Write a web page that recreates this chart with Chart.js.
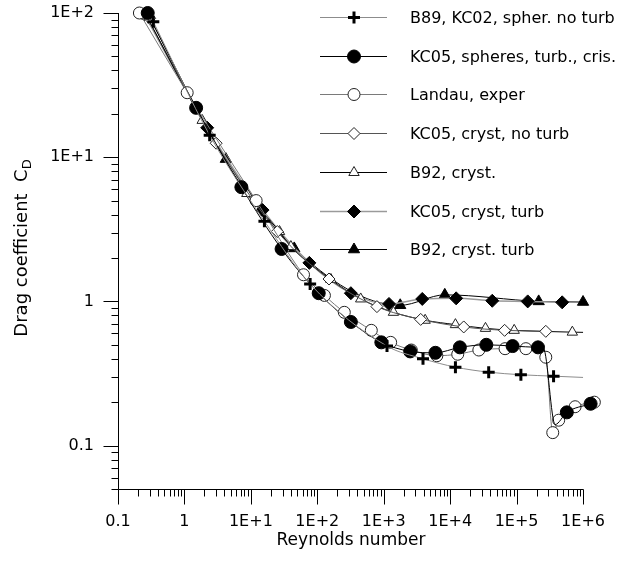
<!DOCTYPE html>
<html>
<head>
<meta charset="utf-8">
<script src="https://cdn.jsdelivr.net/npm/chart.js@4/dist/chart.umd.min.js"></script>
<style>
  html, body { margin: 0; padding: 0; background: #fff; }
  #wrap { width: 628px; height: 563px; }
</style>
</head>
<body>
<div id="wrap"><canvas id="chart" width="628" height="563"></canvas></div>
<script>
// Axis ticks (decades) and their printed labels
const xTickValues = [0.1, 1, 10, 100, 1e3, 1e4, 1e5, 1e6];
const xTickLabels = ['0.1', '1', '1E+1', '1E+2', '1E+3', '1E+4', '1E+5', '1E+6'];
const yTickValues = [0.1, 1, 10, 100];
const yTickLabels = ['0.1', '1', '1E+1', '1E+2'];

const seriesNames = [
  'B89, KC02, spher. no turb',
  'KC05, spheres, turb., cris.',
  'Landau, exper',
  'KC05, cryst, no turb',
  'B92, cryst.',
  'KC05, cryst, turb',
  'B92, cryst. turb'
];

// Reynolds number / drag coefficient per series.
// "...Shown" flags: 1 = plotted with a symbol, 0 = point of the fitted curve only.
const b89Re    = [0.34, 2.4, 16, 78, 1120, 3900, 12000, 38000, 116000, 360000, 1000000];
const b89Cd    = [87, 14.2, 3.6, 1.32, 0.49, 0.40, 0.35, 0.323, 0.31, 0.303, 0.297];
const b89Shown = [1, 1, 1, 1, 1, 1, 1, 1, 1, 1, 0];

const kc05SphRe    = [0.28, 1.5, 7.2, 29, 105, 320, 920, 2500, 6000, 14000, 35000, 87000, 210000, 255000, 380000, 570000, 1300000];
const kc05SphCd    = [100, 22, 6.2, 2.31, 1.14, 0.72, 0.52, 0.45, 0.44, 0.48, 0.50, 0.49, 0.48, 0.47, 0.14, 0.17, 0.195];
const kc05SphShown = [1, 1, 1, 1, 1, 1, 1, 1, 1, 1, 1, 1, 1, 0, 0, 1, 1];

const landauRe    = [0.21, 1.1, 12, 62, 128, 255, 650, 1270, 2600, 6300, 13000, 27000, 67000, 138000, 275000, 350000, 430000, 760000, 1480000];
const landauCd    = [100, 28, 5.0, 1.53, 1.1, 0.84, 0.63, 0.52, 0.46, 0.42, 0.43, 0.46, 0.47, 0.47, 0.41, 0.123, 0.15, 0.186, 0.2];
const landauShown = [1, 1, 1, 1, 1, 1, 1, 1, 1, 1, 1, 1, 1, 1, 1, 1, 1, 1, 1];

const kc05CrNoRe    = [0.3, 3.0, 25, 150, 790, 3600, 16000, 66000, 275000];
const kc05CrNoCd    = [92, 12.5, 3.05, 1.43, 0.92, 0.75, 0.665, 0.63, 0.62];
const kc05CrNoShown = [1, 1, 1, 1, 1, 1, 1, 1, 1];

const b92CrRe    = [0.27, 1.85, 8.7, 27, 40, 160, 450, 1400, 4200, 12000, 34000, 92000, 690000, 1000000];
const b92CrCd    = [95, 18, 5.6, 3.05, 2.4, 1.42, 1.04, 0.84, 0.74, 0.69, 0.65, 0.63, 0.612, 0.61];
const b92CrShown = [1, 1, 1, 1, 1, 1, 1, 1, 1, 1, 1, 1, 1, 0];

const kc05CrTuRe    = [0.25, 2.2, 15, 76, 320, 1200, 3800, 12300, 43000, 147000, 485000];
const kc05CrTuCd    = [98, 16, 4.3, 1.85, 1.14, 0.96, 1.04, 1.05, 1.01, 1.0, 0.985];
const kc05CrTuShown = [1, 1, 1, 1, 1, 1, 1, 1, 1, 1, 1];

const b92CrTuRe    = [0.26, 4.2, 45, 1770, 8300, 215000, 1000000];
const b92CrTuCd    = [97, 9.7, 2.33, 0.94, 1.11, 1.0, 0.99];
const b92CrTuShown = [1, 1, 1, 1, 1, 1, 1];

// The drawn x axis stops at its last labelled decade; the plot region runs a bit
// further so the highest-Re measurements stay visible.
const X_AXIS_END = 1e6;
const X_VIEW_MAX = 1.6e6;

const FONT = 'DejaVu Sans';

// Symbol and line style for each series
const styles = [
  { pointStyle: 'cross',    radius: 6,   fill: '#000', stroke: '#000', pbw: 3, line: '#8c8c8c', lw: 1 },
  { pointStyle: 'circle',   radius: 6.5, fill: '#000', stroke: '#000', pbw: 1, line: '#000',    lw: 1 },
  { pointStyle: 'circle',   radius: 6,   fill: '#fff', stroke: '#222', pbw: 1, line: '#7a7a7a', lw: 1 },
  { pointStyle: 'rectRot',  radius: 6,   fill: '#fff', stroke: '#222', pbw: 1, line: '#555',    lw: 1 },
  { pointStyle: 'triangle', radius: 6,   fill: '#fff', stroke: '#222', pbw: 1, line: '#000',    lw: 1 },
  { pointStyle: 'rectRot',  radius: 6.5, fill: '#000', stroke: '#000', pbw: 1, line: '#9a9a9a', lw: 1.5 },
  { pointStyle: 'triangle', radius: 6.5, fill: '#000', stroke: '#000', pbw: 1, line: '#000',    lw: 1 }
];

const seriesData = [
  [b89Re, b89Cd, b89Shown],
  [kc05SphRe, kc05SphCd, kc05SphShown],
  [landauRe, landauCd, landauShown],
  [kc05CrNoRe, kc05CrNoCd, kc05CrNoShown],
  [b92CrRe, b92CrCd, b92CrShown],
  [kc05CrTuRe, kc05CrTuCd, kc05CrTuShown],
  [b92CrTuRe, b92CrTuCd, b92CrTuShown]
];

const datasets = seriesData.map(([re, cd, shown], i) => {
  const s = styles[i];
  return {
    label: seriesNames[i],
    data: re.map((r, k) => ({ x: r, y: cd[k] })),
    borderColor: s.line,
    borderWidth: s.lw,
    cubicInterpolationMode: 'monotone',
    pointStyle: s.pointStyle,
    pointRadius: c => shown[c.dataIndex] ? s.radius : 0,
    pointBackgroundColor: s.fill,
    pointBorderColor: s.stroke,
    pointBorderWidth: s.pbw,
    fill: false,
    clip: false
  };
});

// Axis lines plus outward major/minor tick marks on both log axes
const axesAndTicks = {
  id: 'axesAndTicks',
  afterDraw(chart) {
    const { ctx, chartArea: a, scales: { x, y } } = chart;
    const xEnd = Math.round(x.getPixelForValue(X_AXIS_END)) + 0.5;
    const x0 = Math.round(a.left) + 0.5;
    const yb = Math.round(a.bottom) + 0.5;
    ctx.save();
    ctx.strokeStyle = '#000';
    ctx.lineWidth = 1;
    ctx.beginPath();
    ctx.moveTo(x0, Math.round(a.top));
    ctx.lineTo(x0, yb);
    ctx.lineTo(xEnd, yb);
    for (let d = -2; d <= 6; d++) {
      for (let m = 1; m <= 9; m++) {
        const v = m * Math.pow(10, d);
        if (v >= x.min * 0.9999 && v <= X_AXIS_END * 1.0001) {
          const px = Math.round(x.getPixelForValue(v)) + 0.5;
          ctx.moveTo(px, yb);
          ctx.lineTo(px, yb + (m === 1 ? 15 : 7));
        }
        if (v >= y.min * 0.9999 && v <= y.max * 1.0001) {
          const py = Math.round(y.getPixelForValue(v)) + 0.5;
          ctx.moveTo(x0, py);
          ctx.lineTo(x0 - (m === 1 ? 15 : 7), py);
        }
      }
    }
    ctx.stroke();

    // x-axis title, centred under the drawn axis
    ctx.fillStyle = '#000';
    ctx.font = '17px "' + FONT + '"';
    ctx.textAlign = 'center';
    ctx.textBaseline = 'middle';
    ctx.fillText('Reynolds number', (x0 + xEnd) / 2, 541);
    ctx.restore();
  }
};

// Rotated y-axis title with subscript
const yTitle = {
  id: 'yTitle',
  afterDraw(chart) {
    const { ctx, chartArea: a } = chart;
    ctx.save();
    const main = 'Drag coefficient  C';
    const sub = 'D';
    ctx.font = '18px "' + FONT + '"';
    const w1 = ctx.measureText(main).width;
    ctx.font = '13px "' + FONT + '"';
    const w2 = ctx.measureText(sub).width;
    const total = w1 + w2;
    ctx.translate(27, (a.top + a.bottom) / 2 - 3);
    ctx.rotate(-Math.PI / 2);
    ctx.fillStyle = '#000';
    ctx.textBaseline = 'alphabetic';
    ctx.textAlign = 'left';
    ctx.font = '18px "' + FONT + '"';
    ctx.fillText(main, -total / 2, 0);
    ctx.font = '13px "' + FONT + '"';
    ctx.fillText(sub, -total / 2 + w1, 4);
    ctx.restore();
  }
};

// Legend inside the plot, upper right
const insideLegend = {
  id: 'insideLegend',
  afterDatasetsDraw(chart) {
    const { ctx } = chart;
    ctx.save();
    chart.data.datasets.forEach((ds, i) => {
      const s = styles[i];
      const yy = Math.round(17 + i * 38.7) + 0.5;
      ctx.strokeStyle = s.line;
      ctx.lineWidth = s.lw;
      ctx.beginPath();
      ctx.moveTo(320, yy);
      ctx.lineTo(387, yy);
      ctx.stroke();
      ctx.fillStyle = s.fill;
      ctx.strokeStyle = s.stroke;
      ctx.lineWidth = s.pbw;
      Chart.helpers.drawPoint(ctx, { pointStyle: s.pointStyle, radius: s.radius, rotation: 0, borderWidth: s.pbw }, 354, yy);
      ctx.fillStyle = '#000';
      ctx.font = '16px "' + FONT + '"';
      ctx.textBaseline = 'middle';
      ctx.textAlign = 'left';
      ctx.fillText(ds.label, 410, yy + 1);
    });
    ctx.restore();
  }
};

Chart.defaults.font.family = FONT;
Chart.defaults.font.size = 16;
Chart.defaults.color = '#000';

const labelFor = (vals, labels) => v => {
  const i = vals.findIndex(t => Math.abs(t - v) / t < 1e-6);
  return i >= 0 ? labels[i] : '';
};

// Fixed scale boxes, without extra padding for overhanging tick labels
const noScalePadding = s => { s.paddingTop = 0; s.paddingBottom = 0; s.paddingLeft = 0; s.paddingRight = 0; };

new Chart(document.getElementById('chart'), {
  type: 'line',
  data: { datasets },
  options: {
    responsive: false,
    animation: false,
    devicePixelRatio: 1,
    layout: { autoPadding: false, padding: { left: 0, right: 31.4, top: 13, bottom: 0 } },
    plugins: { legend: { display: false }, tooltip: { enabled: false } },
    scales: {
      x: {
        type: 'logarithmic',
        min: 0.1,
        max: X_VIEW_MAX,
        afterBuildTicks: s => { s.ticks = xTickValues.map(v => ({ value: v })); },
        afterFit: s => { s.height = 74; noScalePadding(s); },
        ticks: { padding: 23, autoSkip: false, maxRotation: 0, callback: labelFor(xTickValues, xTickLabels) },
        grid: { display: false, drawTicks: false },
        border: { display: false }
      },
      y: {
        type: 'logarithmic',
        min: 0.05,
        max: 100,
        afterBuildTicks: s => { s.ticks = yTickValues.map(v => ({ value: v })); },
        afterFit: s => { s.width = 118; noScalePadding(s); },
        ticks: { padding: 24, autoSkip: false, callback: labelFor(yTickValues, yTickLabels) },
        grid: { display: false, drawTicks: false },
        border: { display: false }
      }
    }
  },
  plugins: [axesAndTicks, yTitle, insideLegend]
});
</script>
</body>
</html>
